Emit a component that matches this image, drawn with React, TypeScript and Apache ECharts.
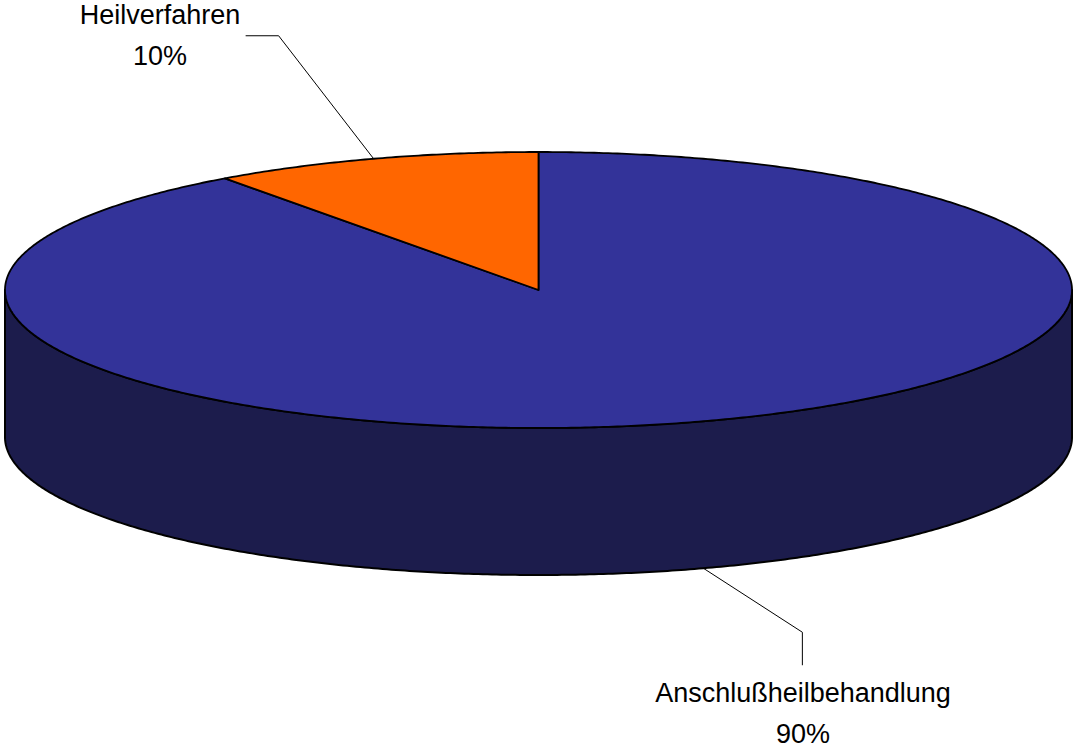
import React, { useEffect, useRef } from "react";
import * as echarts from "echarts";

// ---- data ----
const categories = ["Anschlußheilbehandlung", "Heilverfahren"];
const values = [90, 10];
const topColors = ["#333399", "#FF6600"];
const sideColors = ["#1C1C4C", "#803300"];

export default function App() {
  const ref = useRef<HTMLDivElement>(null);
  useEffect(() => {
    document.body.style.margin = "0";
    const chart = echarts.init(ref.current!, null, { renderer: "svg" });

    const cx = 538.5, cy = 290, rx = 533.5, ry = 138, depth = 147;
    const total = values.reduce((a, b) => a + b, 0);
    const starts: number[] = [];
    let acc = 0;
    values.forEach((v) => { starts.push((acc / total) * 360); acc += v; });

    const pt = (deg: number, dy = 0) => {
      const r = (deg * Math.PI) / 180;
      return [cx + rx * Math.sin(r), cy - ry * Math.cos(r) + dy];
    };
    const arc = (a1: number, a2: number, dy = 0) => {
      const n = Math.max(2, Math.ceil(Math.abs(a2 - a1) / 0.5));
      const out: number[][] = [];
      for (let i = 0; i <= n; i++) out.push(pt(a1 + ((a2 - a1) * i) / n, dy));
      return out;
    };

    // label layout: leader elbow/end offsets and label centre (annotation placement)
    const labelLayout = [
      { onBottom: true, elbow: [99, 64], end: [0, 33], text: [803, 693], align: "center" },
      { onBottom: false, elbow: [-95, -123], end: [-33, 0], text: [160, 15], align: "center" },
    ];
    const font = "Liberation Sans, Arial, sans-serif";

    const renderItem = (params: any, api: any) => {
      const i = params.dataIndex;
      const v = api.value(0) as number;
      const a1 = starts[i];
      const a2 = a1 + (v / total) * 360;
      const children: any[] = [];
      // side face (front visible range 90..270)
      const lo = Math.max(a1, 90), hi = Math.min(a2, 270);
      if (hi > lo) {
        const top = arc(lo, hi, 0);
        const bot = arc(hi, lo, depth);
        children.push({
          type: "polygon",
          z2: 1,
          shape: { points: top.concat(bot) },
          style: { fill: sideColors[i], stroke: "#000", lineWidth: 2, lineJoin: "round" },
        });
      }
      // top face
      children.push({
        type: "polygon",
        z2: 2,
        shape: { points: [[cx, cy]].concat(arc(a1, a2, 0)) },
        style: { fill: topColors[i], stroke: "#000", lineWidth: 1.8, lineJoin: "round" },
      });
      // leader line + label
      const L = labelLayout[i];
      const mid = (a1 + a2) / 2;
      const anchor = pt(mid, L.onBottom ? depth : 0);
      const elbow = [anchor[0] + L.elbow[0], anchor[1] + L.elbow[1]];
      const end = [elbow[0] + L.end[0], elbow[1] + L.end[1]];
      children.push({
        type: "polyline",
        z2: 3,
        shape: { points: [anchor, elbow, end] },
        style: { stroke: "#000", lineWidth: 1, fill: null },
      });
      const pct = Math.round((v / total) * 100) + "%";
      const nm = categories[i];
      [nm, pct].forEach((t, k) => {
        children.push({
          type: "text",
          z2: 4,
          x: L.text[0],
          y: L.text[1] + k * 41,
          style: {
            text: t,
            fill: "#000",
            font: `27px ${font}`,
            align: L.align,
            verticalAlign: "middle",
          },
        });
      });
      return { type: "group", children };
    };

    chart.setOption({
      animation: false,
      backgroundColor: "#ffffff",
      series: [
        {
          type: "custom",
          coordinateSystem: "none",
          silent: true,
          renderItem,
          data: values.map((v, i) => ({ name: categories[i], value: v })),
        },
      ],
    });
    return () => chart.dispose();
  }, []);
  return <div ref={ref} style={{ width: 1074, height: 752 }} />;
}
